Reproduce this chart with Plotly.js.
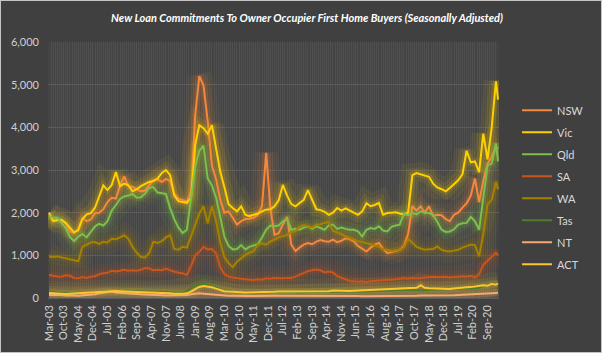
<!DOCTYPE html>
<html><head><meta charset="utf-8">
<script src="https://cdn.plot.ly/plotly-3.0.1.min.js"></script>
<style>html,body{margin:0;padding:0;background:#c4c4c4;}#chart{position:absolute;left:1px;top:1px;width:600px;height:351px;}</style>
</head><body><div id="chart"></div><script>
// Month offsets from Mar-03 (every 2 months, plus last month Feb-21)
const monthOffsets = [];
for (let m = 0; m <= 214; m += 2) monthOffsets.push(m);
monthOffsets.push(215);
const dates = monthOffsets.map(m => {
  const t = 2 + m; const y = 2003 + Math.floor(t / 12); const mo = (t % 12) + 1;
  return y + '-' + String(mo).padStart(2, '0') + '-01';
});

const seriesNames = ['NSW', 'Vic', 'Qld', 'SA', 'WA', 'Tas', 'NT', 'ACT'];

const NSW = [1950,1830,1840,1800,1740,1560,1520,1620,
1870,1800,1840,1990,2000,2080,2250,2350,
2330,2640,2850,2620,2600,2550,2500,2520,
2650,2760,2780,2720,2790,2740,2450,2330,
2300,2260,2500,4300,5200,4980,4150,3100,
2780,2300,2000,2030,1880,1720,1800,1850,
1860,1880,1950,2150,3400,2100,1480,1520,
1720,1900,1250,1100,1180,1250,1290,1260,
1320,1360,1330,1320,1370,1310,1340,1400,
1380,1330,1220,1150,1090,1180,1250,1290,
1150,1050,1080,1100,1130,1220,1500,2150,
2050,2150,2000,2150,1920,1950,1940,1850,
1800,1950,2000,2120,2220,2400,2800,2250,
2750,3150,3300,3550,3500];

const Vic = [2000,1800,1820,1835,1760,1640,1540,1590,
1850,1960,1990,2120,2380,2640,2530,2650,
2950,2620,2680,2640,2500,2550,2620,2680,
2720,2740,2800,2930,3000,2880,2400,2270,
2250,2230,2350,3600,4050,3980,3850,4050,
3500,2950,2600,2200,2110,2030,2150,1950,
1920,1950,1980,2030,2070,2080,2150,2290,
2650,2400,2200,2150,2220,2300,2530,2300,
2080,2060,2020,1950,2000,2110,2050,2100,
2060,2000,1950,2030,2220,2150,2180,2230,
1950,1990,2000,2010,1980,1960,2000,2880,
2930,2900,2860,2840,2680,2590,2550,2500,
2580,2660,2760,2900,3450,3180,3200,2950,
3850,3250,4000,5080,4650];

const Qld = [1930,1880,1880,1760,1640,1430,1330,1440,
1500,1420,1550,1680,1740,1700,1800,2050,
2180,2320,2380,2400,2440,2350,2360,2450,
2580,2600,2470,2460,2440,2100,1850,1650,
1520,1600,2400,3100,3450,3570,2800,2640,
2350,1900,1440,1220,1140,1150,1240,1140,
1200,1230,1260,1420,1600,1700,1680,1700,
1800,1850,1600,1620,1600,1650,1680,1620,
1680,1640,1600,1700,1720,1620,1650,1620,
1600,1600,1560,1440,1600,1640,1620,1680,
1580,1560,1670,1700,1720,1980,1940,1990,
1960,2030,2000,1990,1940,1780,1600,1550,
1560,1610,1720,1750,1760,1900,1800,1600,
2400,3100,3150,3620,3200];

const SA = [540,520,505,500,530,520,470,465,
490,470,500,510,560,580,590,640,
620,640,660,640,650,640,660,700,
690,650,660,650,690,650,620,590,
580,540,760,1000,1080,1200,1140,1150,
1050,720,560,500,480,460,450,440,
430,420,440,430,460,450,470,460,
460,470,470,500,540,590,630,650,
670,650,600,620,600,510,480,440,
400,390,380,390,370,390,400,420,
420,430,425,440,440,460,450,470,
460,460,480,490,500,490,500,500,
480,490,500,510,500,520,480,560,
780,870,980,1060,1010];

const WA = [970,960,975,950,940,900,880,860,
1200,1250,1300,1310,1270,1320,1300,1390,
1380,1420,1470,1390,1200,1060,960,950,
1050,1320,1290,1330,1420,1470,1150,1130,
1200,1180,1450,1760,1980,2150,1750,2150,
1800,1300,960,820,720,850,940,1010,
1060,1100,1250,1280,1250,1330,1370,1420,
1450,1480,1540,1570,1670,1710,1680,1650,
1720,1730,1760,1780,1570,1540,1500,1440,
1400,1360,1330,1310,1290,1260,1230,1200,
1140,1130,1100,1110,1130,1190,1380,1300,
1200,1160,1130,1140,1150,1210,1130,1100,
1090,1110,1130,1180,1220,1250,1240,980,
1500,2200,2300,2720,2550];

const Tas = [140,135,130,120,110,110,105,100,
110,120,125,130,140,150,160,165,
165,165,160,160,155,150,150,150,
150,145,140,140,135,130,125,125,
130,160,230,290,320,330,310,280,
240,200,170,150,140,135,130,130,
130,130,130,135,130,130,140,140,
140,145,140,140,135,140,140,140,
140,140,135,140,145,145,140,140,
140,145,150,150,155,160,160,165,
170,170,175,180,180,175,175,180,
180,185,190,190,195,200,200,200,
205,210,215,220,225,230,220,240,
280,290,310,300,320];

const NT = [70,75,80,70,60,65,60,55,
60,70,80,90,110,120,140,150,
130,120,110,100,95,90,85,80,
80,75,70,65,60,60,55,60,
60,70,90,100,110,100,90,80,
70,60,55,50,50,45,45,45,
45,45,50,50,50,55,55,50,
50,50,55,55,50,50,55,55,
55,60,60,60,55,55,50,50,
45,45,45,40,40,40,40,45,
45,40,40,45,45,50,50,55,
55,60,60,55,55,50,55,60,
60,65,70,75,80,85,90,95,
110,100,120,115,130];

const ACT = [120,110,100,100,95,100,110,120,
120,125,130,135,140,150,160,170,
165,160,150,150,145,140,140,135,
130,130,125,120,120,110,100,95,
100,110,150,210,260,280,270,250,
220,190,160,150,140,140,135,130,
130,130,135,130,130,140,145,150,
150,155,150,150,145,150,160,150,
150,155,150,160,175,170,165,170,
165,170,175,180,185,190,200,195,
200,205,210,220,230,220,225,230,
240,300,240,230,225,220,215,210,
210,220,235,245,250,255,270,280,
300,290,330,310,340];

const seriesValues = [NSW, Vic, Qld, SA, WA, Tas, NT, ACT];
const colors = ['#F5883A', '#FFD000', '#7CBF4A', '#C8561A', '#A88000', '#507D2C', '#F7A870', '#FFC52E'];

const traces = [];
// glow layers
seriesNames.forEach((name, i) => {
  [[24, 0.06], [14, 0.09], [7, 0.14]].forEach(([w, op]) => {
    traces.push({
      x: dates, y: seriesValues[i], type: 'scatter', mode: 'lines', name: name,
      legendgroup: name, showlegend: false, hoverinfo: 'skip',
      line: {color: colors[i], width: w}, opacity: op
    });
  });
});
// main lines
seriesNames.forEach((name, i) => {
  traces.push({
    x: dates, y: seriesValues[i], type: 'scatter', mode: 'lines', name: name,
    legendgroup: name, line: {color: colors[i], width: 2}
  });
});

const tickFont = {family: 'Lato', size: 11, color: '#d0d0d0'};
const layout = {
  width: 600, height: 351,
  paper_bgcolor: '#404040', plot_bgcolor: '#444444',
  margin: {l: 47, r: 87, t: 41, b: 54},
  title: {
    text: 'New Loan Commitments To Owner Occupier First Home Buyers (Seasonally Adjusted)',
    font: {family: 'Lato', size: 11, color: '#ffffff', weight: 'bold', style: 'italic'},
    x: 0.51, xref: 'container', xanchor: 'center',
    y: 0.952, yref: 'container', yanchor: 'middle'
  },
  xaxis: {
    type: 'date', range: ['2003-02-15', '2021-02-15'],
    tick0: '2003-03-01', dtick: 'M7', tickformat: '%b-%y', tickangle: -90,
    tickfont: tickFont, ticks: '', showline: false, zeroline: false,
    showgrid: true, gridcolor: 'rgba(255,255,255,0.07)', gridwidth: 1,
    minor: {dtick: 'M1', showgrid: true, gridcolor: 'rgba(255,255,255,0.06)', gridwidth: 1},
    ticklabelstandoff: 4
  },
  yaxis: {
    range: [0, 6000], dtick: 1000, tickformat: ',', tickfont: tickFont,
    gridcolor: '#5c5c5c', gridwidth: 1, zeroline: true, zerolinecolor: '#5c5c5c', zerolinewidth: 1,
    showline: false, ticks: '', ticklabelstandoff: 8
  },
  legend: {
    x: 1.04, xanchor: 'left', y: 0.79, yanchor: 'top',
    font: {family: 'Lato', size: 11, color: '#d9d9d9'},
    bgcolor: 'rgba(0,0,0,0)', traceorder: 'grouped', tracegroupgap: 3
  },
  showlegend: true
};

Plotly.newPlot('chart', traces, layout, {displayModeBar: false, staticPlot: true});
</script></body></html>
